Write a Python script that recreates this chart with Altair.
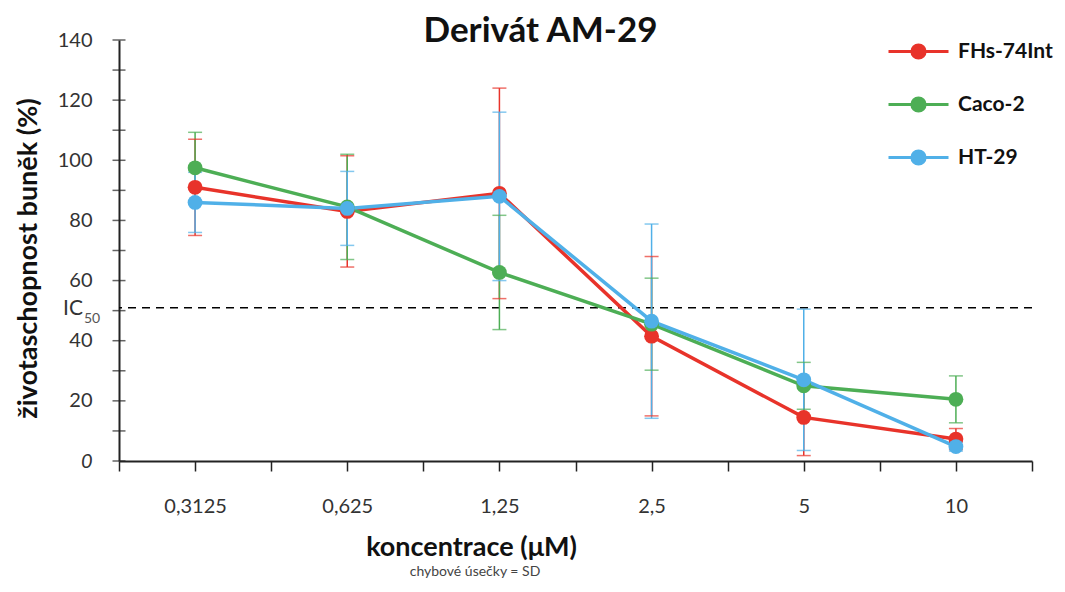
import json
import altair as alt
import pandas as pd

concentrations = ["0,3125", "0,625", "1,25", "2,5", "5", "10"]
series_names = ["FHs-74Int", "Caco-2", "HT-29"]
series_colors = ["#E8332A", "#4DAE55", "#50B0E8"]

fhs_mean = [91.0, 83.0, 89.0, 41.5, 14.5, 7.3]
fhs_sd = [16.0, 18.5, 35.0, 26.5, 12.7, 3.5]
caco_mean = [97.5, 84.5, 62.7, 45.5, 25.0, 20.5]
caco_sd = [11.8, 17.5, 19.0, 15.3, 7.8, 7.8]
ht_mean = [86.0, 84.0, 88.0, 46.5, 27.0, 4.8]
ht_sd = [10.0, 12.3, 28.0, 32.3, 23.5, 1.5]

ic50_value = [51]
y_tick_values = list(range(0, 141, 10))
x_tick_values = [-0.5, 0, 0.5, 1, 1.5, 2, 2.5, 3, 3.5, 4, 4.5, 5, 5.5]

rows = []
for k, (name, means, sds) in enumerate(zip(series_names, [fhs_mean, caco_mean, ht_mean], [fhs_sd, caco_sd, ht_sd])):
    for i, (m, s) in enumerate(zip(means, sds)):
        rows.append({"idx": i, "series": name, "ord": k, "value": m, "lo": m - s, "hi": m + s})
df = pd.DataFrame(rows)

W, H = 913, 421
FONT = "Lato"

label_expr = (
    f"indexof([0,1,2,3,4,5], datum.value) >= 0 ? {json.dumps(concentrations)}[datum.value] : ''"
)

x_scale = alt.Scale(domain=[-0.5, 5.5], nice=False, zero=False)
y_scale = alt.Scale(domain=[0, 140], nice=False)

XT = "koncentrace (μM)"
YT = "životaschopnost buněk (%)"

x_axis = alt.Axis(
    values=x_tick_values, labelExpr=label_expr, grid=False,
    domainColor="#222", domainWidth=2, tickColor="#222", tickWidth=1.5, tickSize=10,
    labelFont=FONT, labelFontSize=20, labelColor="#333", labelPadding=25,
    title=XT, titleFont=FONT, titleFontSize=27, titleFontWeight="bold",
    titleColor="#111", titleX=352, titleY=86, titleBaseline="middle", titleAlign="center",
    labelFlush=False,
)
y_axis = alt.Axis(
    values=y_tick_values, labelExpr="datum.value % 20 == 0 ? datum.label : ''", grid=False,
    domainColor="#222", domainWidth=2, ticks=False, tickSize=0,
    labelFont=FONT, labelFontSize=20, labelColor="#333", labelPadding=27,
    labelFontStyle={"condition": {"test": "datum.value == 0", "value": "italic"}, "value": "normal"},
    title=YT, titleFont=FONT, titleFontSize=27, titleFontWeight="bold",
    titleColor="#111", titleX=-91, titleY=218, titleAngle=270, titleBaseline="middle",
    titleAlign="center",
)

X = alt.X("idx:Q", scale=x_scale, axis=x_axis, title=XT)

color = alt.Color(
    "series:N",
    scale=alt.Scale(domain=series_names, range=series_colors),
    legend=alt.Legend(
        orient="none", legendX=768, legendY=-20, title=None,
        symbolType="M-1,0H1M-0.22,0A0.22,0.22,0,1,1,0.22,0A0.22,0.22,0,1,1,-0.22,0Z",
        symbolSize=3600, symbolStrokeWidth=3, symbolOpacity=1,
        labelFont=FONT, labelFontSize=21, labelFontWeight="bold", labelColor="#111",
        rowPadding=8, labelOffset=8,
    ),
)

def Y(field):
    return alt.Y(field, scale=y_scale, axis=y_axis, title=YT)

base = alt.Chart(df)

err = base.mark_rule(strokeWidth=1.5).encode(x=X, y=Y("lo:Q"), y2="hi:Q", color=color)
cap_lo = base.mark_tick(orient="horizontal", size=14, thickness=1.5).encode(x=X, y=Y("lo:Q"), color=color)
cap_hi = base.mark_tick(orient="horizontal", size=14, thickness=1.5).encode(x=X, y=Y("hi:Q"), color=color)

lines = base.mark_line(strokeWidth=3.5).encode(x=X, y=Y("value:Q"), color=color, order="idx:Q")
points = base.mark_circle(size=220, opacity=1).encode(x=X, y=Y("value:Q"), color=color, order="ord:Q")

ic_df = pd.DataFrame({"value": ic50_value})
ic_line = alt.Chart(ic_df).mark_rule(color="black", strokeWidth=1.5, strokeDash=[8, 6]).encode(
    y=Y("value:Q"),
)
ic_text = alt.Chart(ic_df).mark_text(
    text="IC", align="right", baseline="middle", font=FONT, fontSize=21, color="#333", dx=-36, dy=1
).encode(y=Y("value:Q"), x=alt.value(0))
ic_sub = alt.Chart(ic_df).mark_text(
    text="50", align="left", baseline="middle", font=FONT, fontSize=14, color="#555", dx=-35, dy=11
).encode(y=Y("value:Q"), x=alt.value(0))

ytick_df = pd.DataFrame({"value": y_tick_values})
yticks = alt.Chart(ytick_df).mark_tick(orient="horizontal", size=13, thickness=1.5, color="#222").encode(
    y=Y("value:Q"), x=alt.value(0),
)

note = alt.Chart(ic_df).mark_text(
    text="chybové úsečky = SD", font=FONT, fontSize=14, color="#444", align="center", baseline="middle"
).encode(x=alt.value(356), y=alt.value(532))

chart = alt.layer(
    ic_line, ic_text, ic_sub, yticks, err, cap_lo, cap_hi, lines, points, note
).properties(
    width=W, height=H,
    title=alt.TitleParams(
        "Derivát AM-29", font=FONT, fontSize=35, fontWeight="bold", color="#111",
        anchor="middle", dx=-35, dy=33, offset=4,
    ),
    autosize=alt.AutoSizeParams(type="none"),
    padding={"left": 111, "top": 32, "right": 25, "bottom": 123},
).configure_view(stroke=None)

chart.save("out.html", embed_options={"renderer": "svg", "actions": False})
